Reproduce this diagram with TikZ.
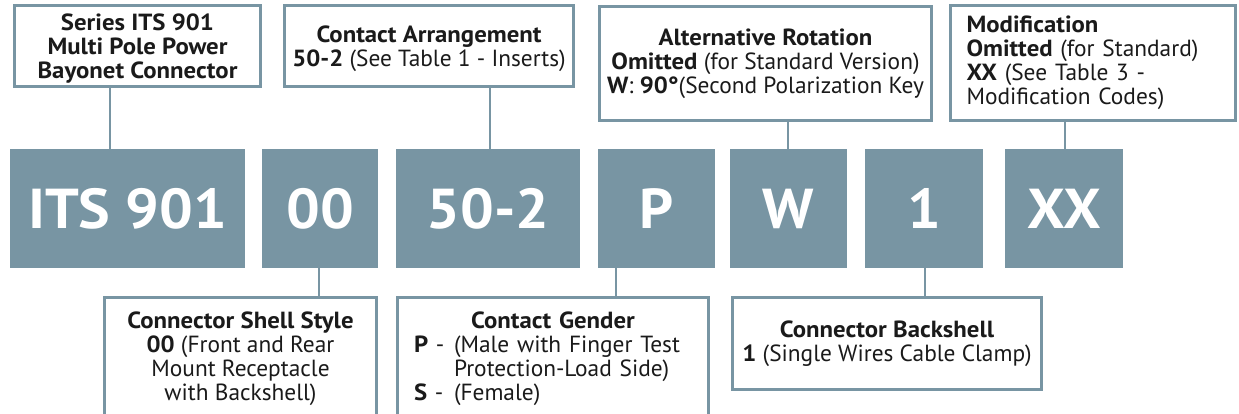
\documentclass[tikz,border=0pt]{standalone}
\usepackage{fontspec}
\setmainfont{PT Sans}[BoldFeatures={FakeStretch=1.06}]
\usetikzlibrary{positioning}
\definecolor{cslate}{HTML}{7895A3}
\definecolor{cink}{HTML}{1A1A1A}
\tikzset{
  every picture/.style={line width=1.1pt},
  code/.style={fill=cslate, text=white, font=\bfseries\fontsize{32}{36}\selectfont, minimum height=2.38cm, inner sep=0pt, outer sep=0pt},
  callout/.style={draw=cslate, line width=1.7pt, fill=white, text=cink, align=center, inner sep=0pt, font=\fontsize{13.3}{13.7}\selectfont},
  openbox/.style={callout, anchor=north, inner ysep=0.29cm, text depth=3cm},
  link/.style={draw=cslate, line width=1.1pt},
}
\begin{document}
\begin{tikzpicture}[x=0.02cm, y=-0.02cm]
  \useasboundingbox (0,0) rectangle (1239,413);
  \clip (0,0) rectangle (1239,413);
  % part number segments
  \node[code, minimum width=4.70cm] (its) at (127.5,208.5) {ITS 901};
  \node[code, minimum width=2.32cm] (shell) at (320,208.5) {00};
  \node[code, minimum width=3.68cm] (arr) at (488,208.5) {50-2};
  \node[code, minimum width=2.34cm] (gender) at (656.5,208.5) {P};
  \node[code, minimum width=2.34cm] (rot) at (788.5,208.5) {W};
  \node[code, minimum width=2.36cm] (back) at (924,208.5) {1};
  \node[code, minimum width=2.36cm] (mod) at (1064,208.5) {XX};
  % callouts above
  \node[callout, text depth=0pt, minimum width=4.92cm, minimum height=1.62cm] (seriesbox) at (137.5,46)
    {\textbf{Series ITS 901}\\\textbf{Multi Pole Power}\\\textbf{Bayonet Connector}};
  \node[callout, text depth=0pt, minimum width=5.78cm, minimum height=1.62cm] (arrbox) at (429,46)
    {\textbf{Contact Arrangement}\\\textbf{50-2} (See Table 1 - Inserts)};
  \node[callout, minimum width=6.64cm, minimum height=2.28cm] (rotbox) at (765.5,63.5)
    {\textbf{Alternative Rotation}\\\textbf{Omitted} (for Standard Version)\\\textbf{W}: \textbf{90°}(Second Polarization Key};
  \node[callout, align=left, inner xsep=0.32cm, text width=5.06cm, minimum height=2.3cm] (modbox) at (1093,63)
    {\textbf{Modification}\\\textbf{Omitted} (for Standard)\\\textbf{XX} (See Table 3 -\\Modification Codes)};
  % callouts below
  \node[openbox, minimum width=5.44cm] (shellbox) at (240.5,296)
    {\textbf{Connector Shell Style}\\\textbf{00} (Front and Rear\\Mount Receptacle\\with Backshell)};
  \node[openbox, align=left, inner xsep=0.33cm, text width=5.56cm] (genderbox) at (553,296)
    {\makebox[\hsize]{\textbf{Contact Gender}}\\
     \makebox[0.8cm][l]{\textbf{P} -}(Male with Finger Test\\
     \hspace*{0.8cm}Protection-Load Side)\\
     \makebox[0.8cm][l]{\textbf{S} -}(Female)};
  \node[callout, minimum width=6.18cm, minimum height=1.84cm] (backbox) at (887,343.5)
    {\textbf{Connector Backshell}\\\textbf{1} (Single Wires Cable Clamp)};
  % leader lines
  \draw[link] (seriesbox.south -| 110,0) -- (its.north -| 110,0);
  \draw[link] (arrbox.south -| 490,0) -- (arr.north -| 490,0);
  \draw[link] (rotbox.south -| 788,0) -- (rot.north -| 788,0);
  \draw[link] (modbox.south -| 1065,0) -- (mod.north -| 1065,0);
  \draw[link] (shell.south -| 319,0) -- (shellbox.north -| 319,0);
  \draw[link] (gender.south -| 616,0) -- (genderbox.north -| 616,0);
  \draw[link] (back.south -| 925,0) -- (backbox.north -| 925,0);
\end{tikzpicture}
\end{document}
